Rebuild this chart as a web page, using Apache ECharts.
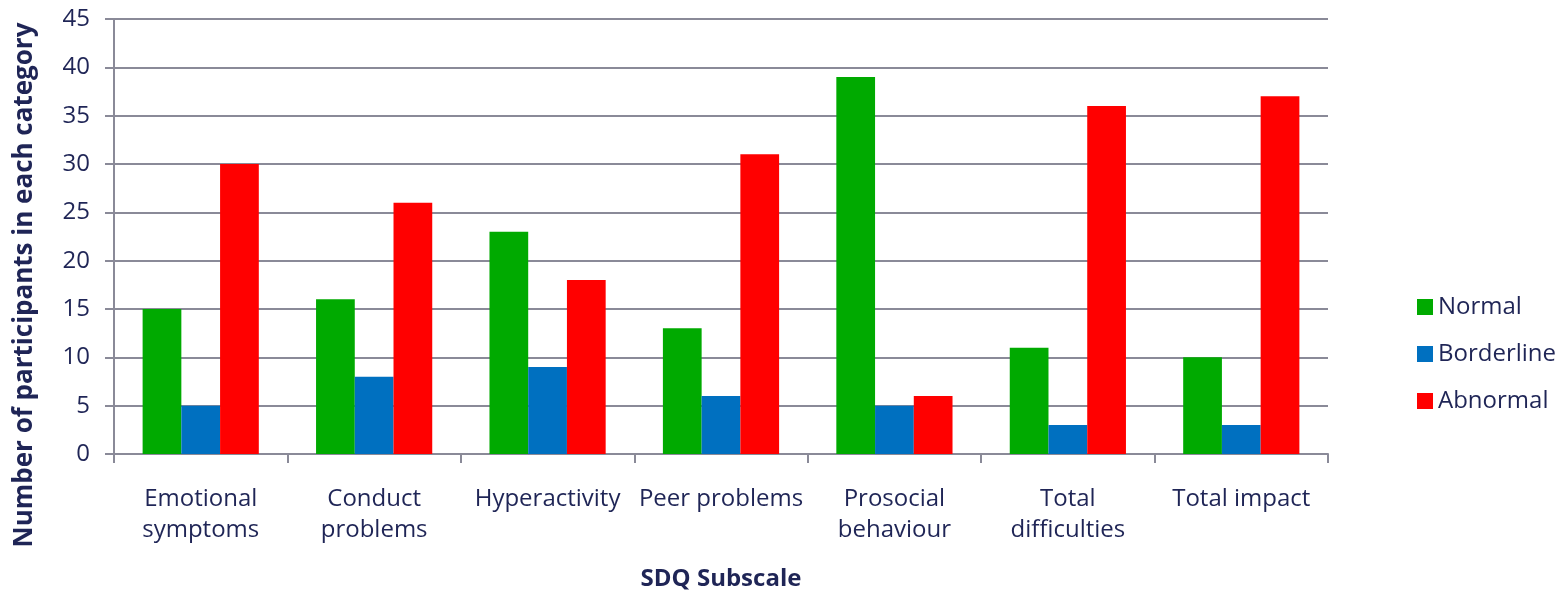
<!DOCTYPE html>
<html>
<head>
<meta charset="utf-8">
<script src="https://cdn.jsdelivr.net/npm/echarts@6/dist/echarts.min.js"></script>
<style>
  html, body { margin: 0; padding: 0; background: #fff; }
  #chart { width: 1568px; height: 593px; }
</style>
</head>
<body>
<div id="chart"></div>
<script>
const categories = [
  "Emotional\nsymptoms",
  "Conduct\nproblems",
  "Hyperactivity",
  "Peer problems",
  "Prosocial\nbehaviour",
  "Total\ndifficulties",
  "Total impact"
];
const normal = [15, 16, 23, 13, 39, 11, 10];
const borderline = [5, 8, 9, 6, 5, 3, 3];
const abnormal = [30, 26, 18, 31, 6, 36, 37];

const textColor = "#1f2556";
const lineColor = "#8a8a98";
const font = "Open Sans";

var myChart = echarts.init(document.getElementById("chart"));
var option = {
  animation: false,
  textStyle: { fontFamily: font },
  grid: { left: 114, right: 240, top: 19, bottom: 139, outerBoundsMode: "none" },
  legend: {
    orient: "vertical",
    left: 1412,
    top: 290,
    itemWidth: 16,
    itemHeight: 16,
    itemGap: 23,
    icon: "rect",
    textStyle: { fontSize: 24, color: textColor, fontFamily: font, padding: [0, 0, 0, 0] },
    data: ["Normal", "Borderline", "Abnormal"]
  },
  xAxis: {
    type: "category",
    data: categories,
    name: "SDQ Subscale",
    nameLocation: "middle",
    nameGap: 113,
    nameTextStyle: { fontSize: 24, fontWeight: "bold", color: textColor, fontFamily: font },
    axisLine: { lineStyle: { color: lineColor, width: 2 } },
    axisTick: { show: true, length: 9, lineStyle: { color: lineColor, width: 2 } },
    axisLabel: { fontSize: 24, color: textColor, margin: 30, lineHeight: 31, interval: 0, fontFamily: font }
  },
  yAxis: {
    type: "value",
    min: 0,
    max: 45,
    interval: 5,
    axisLine: { show: true, lineStyle: { color: lineColor, width: 2 } },
    axisTick: { show: true, length: 9, lineStyle: { color: lineColor, width: 2 } },
    axisLabel: { fontSize: 24, color: textColor, margin: 24, fontFamily: font },
    splitLine: { lineStyle: { color: lineColor, width: 2 } }
  },
  graphic: [
    {
      type: "text",
      x: 25,
      y: 285,
      rotation: Math.PI / 2,
      style: {
        text: "Number of participants in each category",
        font: "bold 26px 'Open Sans'",
        fill: textColor,
        align: "center",
        verticalAlign: "middle"
      }
    }
  ],
  series: [
    { name: "Normal", type: "bar", data: normal, barGap: "0%", barCategoryGap: "33%", itemStyle: { color: "#00aa00" } },
    { name: "Borderline", type: "bar", data: borderline, itemStyle: { color: "#0070c0" } },
    { name: "Abnormal", type: "bar", data: abnormal, itemStyle: { color: "#ff0000" } }
  ]
};
option && myChart.setOption(option);
</script>
</body>
</html>
